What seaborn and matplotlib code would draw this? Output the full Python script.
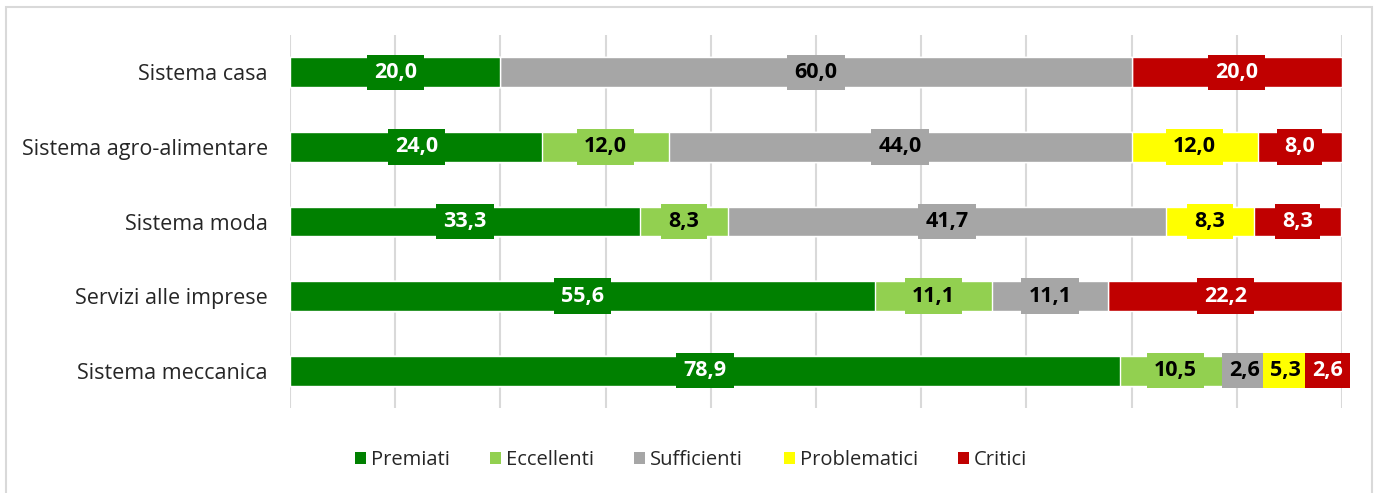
import numpy as np
import pandas as pd
import matplotlib
matplotlib.use("Agg")
import matplotlib.pyplot as plt
from matplotlib.patches import Patch, Rectangle
import seaborn as sns

# dati (%)
settori = ["Sistema casa", "Sistema agro-alimentare", "Sistema moda",
           "Servizi alle imprese", "Sistema meccanica"]
classi = ["Premiati", "Eccellenti", "Sufficienti", "Problematici", "Critici"]
premiati = [20.0, 24.0, 33.3, 55.6, 78.9]
eccellenti = [0.0, 12.0, 8.3, 11.1, 10.5]
sufficienti = [60.0, 44.0, 41.7, 11.1, 2.6]
problematici = [0.0, 12.0, 8.3, 0.0, 5.3]
critici = [20.0, 8.0, 8.3, 22.2, 2.6]

colori = ["#008000", "#92d050", "#a6a6a6", "#ffff00", "#c00000"]
col_testo = ["white", "black", "black", "black", "white"]

sns.set_theme(style="white")
plt.rcParams["font.family"] = ["Open Sans", "DejaVu Sans"]

df = pd.DataFrame({"settore": settori, "Premiati": premiati, "Eccellenti": eccellenti,
                   "Sufficienti": sufficienti, "Problematici": problematici,
                   "Critici": critici})
cum = df[classi].cumsum(axis=1)

fig = plt.figure(figsize=(13.78, 4.93), dpi=100)
ax = fig.add_axes([290 / 1378, 1 - 408 / 493, (1342 - 290) / 1378, (408 - 35) / 493])

# barre impilate: si disegna prima il cumulato totale, poi via via quelli minori
for i in range(len(classi) - 1, -1, -1):
    sns.barplot(x=cum[classi[i]], y=df["settore"], color=colori[i], width=0.4,
                orient="h", saturation=1, ax=ax, zorder=2)

for i, c in enumerate(classi):
    for j in range(len(settori)):
        v = df[c].iloc[j]
        if v <= 0:
            continue
        xc = cum[c].iloc[j] - v / 2
        ax.text(xc, j, f"{v:.1f}".replace(".", ","), ha="center", va="center",
                fontsize=15.5, fontweight="bold", color=col_testo[i], zorder=4,
                clip_on=False,
                bbox=dict(boxstyle="square,pad=0.33", fc=colori[i], ec="none"))

ax.set_xlim(0, 100)
ax.set_ylim(4.5, -0.5)
ax.set_xticks(np.arange(0, 101, 10))
ax.set_xticklabels([])
ax.xaxis.grid(True, color="#d9d9d9", lw=1.5, zorder=0)
ax.yaxis.grid(False)
ax.set_axisbelow(True)
ax.set_xlabel("")
ax.set_ylabel("")
ax.tick_params(axis="y", length=0, pad=16, labelsize=15.5, colors="#262626")
ax.tick_params(axis="x", length=0)
for s in ax.spines.values():
    s.set_visible(False)

handles = [Patch(facecolor=colori[i], edgecolor="none", label=classi[i]) for i in range(5)]
fig.legend(handles=handles, loc="center", bbox_to_anchor=(691 / 1378, 1 - 460 / 493),
           ncol=5, frameon=False, fontsize=14.5, handlelength=0.55, handleheight=0.55,
           handletextpad=0.25, columnspacing=2.0, labelcolor="#262626")

# cornice del grafico
fig.patches.append(Rectangle((6 / 1378, -0.05), (1372 - 6) / 1378, 1.05 - 7 / 493,
                             transform=fig.transFigure, fill=False,
                             ec="#d9d9d9", lw=1.5, zorder=0))

fig.savefig("out.png", dpi=100)
